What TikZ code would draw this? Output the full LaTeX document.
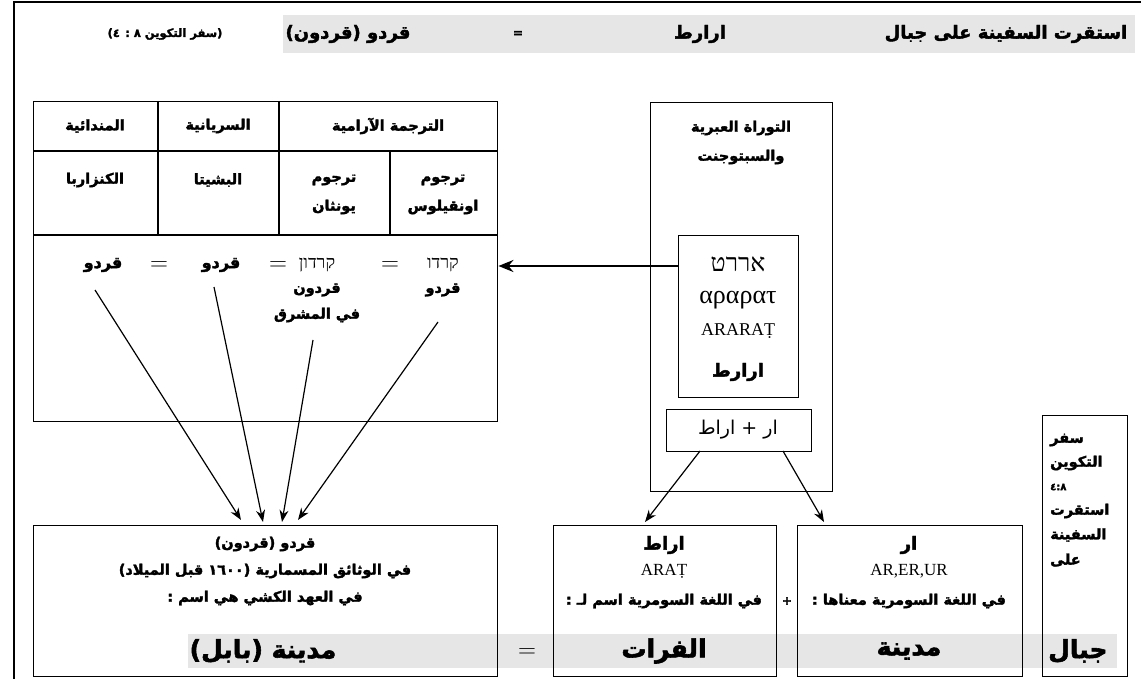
\documentclass[tikz,border=0pt]{standalone}
\usepackage{fontspec}
\usetikzlibrary{arrows.meta}
\TeXXeTstate=1
\setmainfont{Liberation Serif}
\newfontfamily\arb[Script=Arabic,FakeBold=2.2]{DejaVu Sans Bold}
\newfontfamily\arbl[FakeBold=2.2]{DejaVu Sans Bold}
\newfontfamily\arr[Script=Arabic]{DejaVu Sans}
\newfontfamily\heb[Script=Hebrew]{Liberation Serif}
\newcommand\RL[1]{\beginR #1\endR}
\definecolor{band}{HTML}{E6E6E6}
\tikzset{
  box/.style={draw, line width=1.4pt},
  lbl/.style={inner sep=0pt, font=\arb\fontsize{14.5}{16}\selectfont},
  lbls/.style={inner sep=0pt, font=\arb\fontsize{11.5}{13}\selectfont},
  lblm/.style={inner sep=0pt, font=\arb\fontsize{18}{20}\selectfont},
  lblb/.style={inner sep=0pt, font=\arb\fontsize{25}{27}\selectfont},
  lat/.style={inner sep=0pt, font=\fontsize{17}{19}\selectfont},
  hb/.style={inner sep=0pt, font=\heb\fontsize{18}{20}\selectfont},
  eq/.style={inner sep=0pt, font=\fontsize{28}{30}\selectfont},
  thin arrow/.style={line width=1.2pt, -{Stealth[length=12pt,width=9pt]}},
  thick arrow/.style={line width=2.4pt, -{Stealth[length=15pt,width=12pt]}},
}
\begin{document}
\begin{tikzpicture}[x=1pt,y=-1pt]
\useasboundingbox (0,0) rectangle (1141,679);
% frame
\draw[line width=2pt] (14,679) -- (14,2) -- (1141,2);
% gray bands
\fill[band] (283,15) rectangle (1135,53);
\fill[band] (188,634) rectangle (1117,668);
% top line texts
\node[lblm] (t1) at (1006,34) {\RL{استقرت السفينة على جبال}};
\node[lblm] (t2) at (700,34) {\RL{ارارط}};
\node[lbls, font=\arbl\fontsize{12}{14}\selectfont] (t3) at (518,34) {=};
\node[lblm] (t4) at (348,34) {\RL{قردو (قردون)}};
\node[lbls] (t5) at (165,34) {\RL{(سفر التكوين ٨ : ٤)}};
% table
\node[box, anchor=north west, minimum width=464pt, minimum height=320pt, inner sep=0pt] (tab) at (33,101) {};
\draw[line width=1.4pt] (33,151) -- (497,151);
\draw[line width=1.4pt] (33,235) -- (497,235);
\draw[line width=1.4pt] (158,101) -- (158,235);
\draw[line width=1.4pt] (279,101) -- (279,235);
\draw[line width=1.4pt] (390,151) -- (390,235);
\node[lbl] (h1) at (95,126) {\RL{المندائية}};
\node[lbl] (h2) at (218,126) {\RL{السريانية}};
\node[lbl] (h3) at (388,126) {\RL{الترجمة الآرامية}};
\node[lbl] (c1) at (95,180) {\RL{الكنزاربا}};
\node[lbl] (c2) at (218,180) {\RL{البشيتا}};
\node[lbl] (c3a) at (334,180) {\RL{ترجوم}};
\node[lbl] (c3b) at (334,207) {\RL{يونثان}};
\node[lbl] (c4a) at (443,180) {\RL{ترجوم}};
\node[lbl] (c4b) at (443,207) {\RL{اونقيلوس}};
% row 3
\node[lbl, font=\arb\fontsize{16}{18}\selectfont] (q1) at (103,265) {\RL{قردو}};
\node[eq] (e1) at (159,266) {$=$};
\node[lbl, font=\arb\fontsize{16}{18}\selectfont] (q2) at (221,265) {\RL{قردو}};
\node[eq] (e2) at (278,266) {$=$};
\node[hb] (k2) at (317,265) {\RL{קרדון}};
\node[eq] (e3) at (390,266) {$=$};
\node[hb] (k1) at (443,265) {\RL{קרדו}};
\node[lbl] (q3) at (317,290) {\RL{قردون}};
\node[lbl] (q4) at (443,290) {\RL{قردو}};
\node[lbl] (q5) at (317,315) {\RL{في المشرق}};
% bottom left box
\node[box, anchor=north west, minimum width=464pt, minimum height=151pt, inner sep=0pt] (bl) at (33,525) {};
\node[lbl] (b1) at (265,544) {\RL{قردو (قردون)}};
\node[lbl] (b2) at (265,571) {\RL{في الوثائق المسمارية (١٦٠٠ قبل الميلاد)}};
\node[lbl] (b3) at (265,598) {\RL{في العهد الكشي هي اسم :}};
\node[lblb] (b4) at (263,651) {\RL{مدينة (بابل)}};
\node[eq] (e4) at (527,653) {$=$};
% arrows to bottom left box
\coordinate (s1) at (95,290);
\coordinate (s2) at (214,287);
\coordinate (s3) at (313,340);
\coordinate (s4) at (438,322);
\coordinate (a1) at (241,520);
\coordinate (a2) at (263,522);
\coordinate (a3) at (282,522);
\coordinate (a4) at (298,520);
\draw[thin arrow] (s1) -- (a1);
\draw[thin arrow] (s2) -- (a2);
\draw[thin arrow] (s3) -- (a3);
\draw[thin arrow] (s4) -- (a4);
% torah box
\node[box, anchor=north west, minimum width=182pt, minimum height=389pt, inner sep=0pt] (tor) at (650,102) {};
\node[lbl] (o1) at (741,128) {\RL{التوراة العبرية}};
\node[lbl] (o2) at (741,157) {\RL{والسبتوجنت}};
\node[box, anchor=north west, minimum width=120pt, minimum height=162pt, inner sep=0pt] (inn) at (678,235) {};
\node[hb, font=\heb\fontsize{25}{27}\selectfont] (i1) at (738,264) {\RL{אררט}};
\node[lat, font=\fontsize{26}{28}\selectfont] (i2) at (738,300) {αραρατ};
\node[lat, font=\fontsize{18}{20}\selectfont] (i3) at (738,331) {ARARAṬ};
\node[lblm] (i4) at (738,372) {\RL{ارارط}};
\node[box, anchor=north west, minimum width=145pt, minimum height=42pt, inner sep=0pt] (sum) at (666,409) {};
\node[inner sep=0pt, font=\arr\fontsize{19}{21}\selectfont] (sm) at (738,430) {\RL{ار + اراط}};
\draw[thick arrow] (inn.west |- 0,266) -- (tab.east |- 0,266);
% bottom middle boxes
\node[box, anchor=north west, minimum width=223pt, minimum height=151pt, inner sep=0pt] (bm) at (553,525) {};
\node[lblm] (m1) at (664,545) {\RL{اراط}};
\node[lat] (m2) at (664,571) {ARAṬ};
\node[lbl] (m3) at (664,601) {\RL{في اللغة السومرية اسم لـ :}};
\node[lblb] (m4) at (664,651) {\RL{الفرات}};
\node[lbls, font=\arbl\fontsize{12}{14}\selectfont] (plus) at (787,601) {+};
\node[box, anchor=north west, minimum width=225pt, minimum height=151pt, inner sep=0pt] (br) at (797,525) {};
\node[lblm] (r1) at (909,545) {\RL{ار}};
\node[lat] (r2) at (909,571) {AR,ER,UR};
\node[lbl] (r3) at (909,601) {\RL{في اللغة السومرية معناها :}};
\node[lblb] (r4) at (909,651) {\RL{مدينة}};
\coordinate (sl) at (700,451);
\coordinate (sr) at (783,451);
\coordinate (tl) at (645,522);
\coordinate (tr) at (824,522);
\draw[thin arrow] (sl) -- (tl);
\draw[thin arrow] (sr) -- (tr);
% narrow right box
\node[box, anchor=north west, minimum width=85pt, minimum height=261pt, inner sep=0pt] (nr) at (1042,415) {};
\node[lbl, anchor=west] (n1) at (1050,440) {\RL{سفر}};
\node[lbl, anchor=west] (n2) at (1050,463) {\RL{التكوين}};
\node[lbls, anchor=west, font=\arbl\fontsize{10}{12}\selectfont] (n3) at (1050,487) {٤:٨};
\node[lbl, anchor=west] (n4) at (1050,511) {\RL{استقرت}};
\node[lbl, anchor=west] (n5) at (1050,535) {\RL{السفينة}};
\node[lbl, anchor=west] (n6) at (1050,560) {\RL{على}};
\node[lblb, anchor=west] (n7) at (1048,651) {\RL{جبال}};
\end{tikzpicture}
\end{document}
